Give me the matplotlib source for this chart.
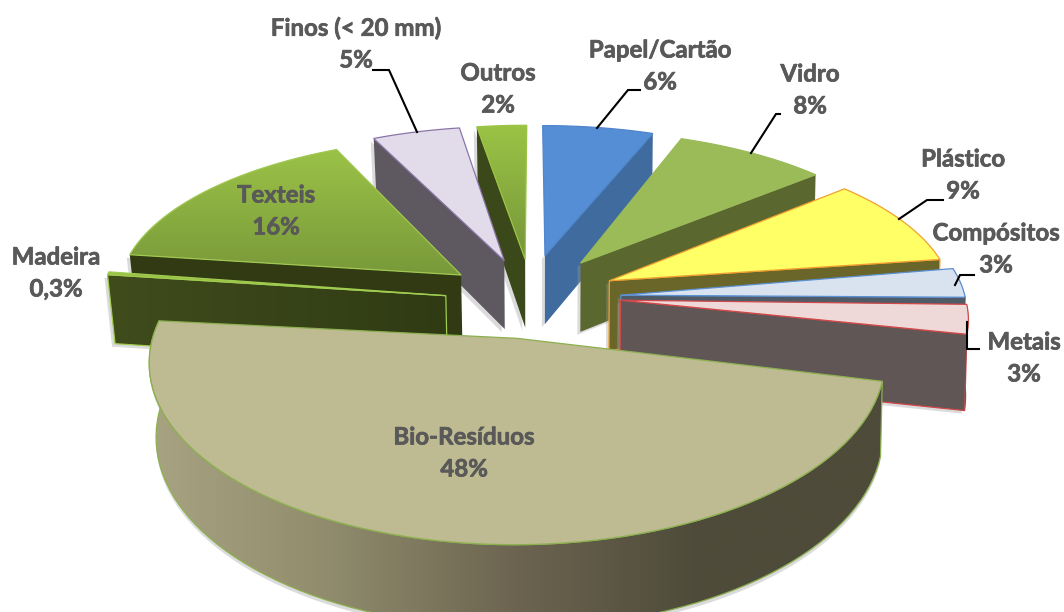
import numpy as np
import matplotlib
matplotlib.use('Agg')
import matplotlib.pyplot as plt
import matplotlib.patheffects as pe
from matplotlib.patches import Polygon
from matplotlib.colors import LinearSegmentedColormap

# data, clockwise from the top
names = ['Papel/Cartão', 'Vidro', 'Plástico', 'Compósitos', 'Metais',
         'Bio-Resíduos', 'Madeira', 'Texteis', 'Finos (< 20 mm)', 'Outros']
shares = [5.8, 8, 9, 3, 3, 48, 0.3, 16, 4.6, 2.6]
share_labels = ['6%', '8%', '9%', '3%', '3%', '48%', '0,3%', '16%', '5%', '2%']

# style of each slice
top_colors = ['#558ED5', '#9BBB59', '#FFFF66', '#D9E3F0', '#EFD9D8',
              '#BEBA91', '#9BC046', ('#9BC247', '#79993A'), '#E2DCEA', ('#9BC445', '#76953A')]
wall_colors = ['#3F6B9F', '#5A672E', '#6A662A', '#4F5B66', '#605656',
               ('#A8A482', '#8F8B6C', '#6C6450', '#4E4B3A', '#4E4B3A'),
               ('#404C1C', '#303B14'), '#313A13', '#5E5860', '#3A481A']
edge_colors = ['#4F86CC', '#9BBB59', '#F0A030', '#5B8FD0', '#D04848',
               '#8CB050', '#A0CC50', '#A0C850', '#8B75A8', '#9BC445']
explode = [0.21, 0.20, 0.21, 0.24, 0.24, 0.36, 0.26, 0.26, 0.21, 0.21]
stretch = [1, 1, 1, 1, 1, 1.07, 1, 1, 1, 1]
depths = [70, 70, 70, 70, 74, 70, 70, 70, 70, 70]
# small pixel corrections: whole slice, then apex only
nudge = [(1, 0), (5, 0), (7, 4), (0, 2), (0, 2), (9, -9), (10, 4), (9, 5), (-1, 0), (2, 0)]
apex_nudge = [(1, -3), (6, -2), (6, 0), (7, 5), (7, 3), (0, 0), (-4, 6), (-5, 3), (-3, 1), (-1, 1)]
draw_order = [9, 8, 0, 1, 2, 3, 4, 7, 6, 5]

# text positions in pixels
label_xy = [(660, 50), (810, 74), (963, 159), (996, 233), (1024, 342),
            (464, 437), (56, 257), (276, 195), (356, 28), (498, 73)]
leaders = [[(640, 90), (628, 90), (597, 128)],
           [(780, 114), (776, 114), (751, 153)],
           [(943, 200), (927, 200), (899, 219)],
           [(974, 275), (960, 275), (955, 285)],
           [(979, 349), (967, 349), (967, 322)],
           [(373, 70), (389, 70), (417, 132)]]

# projection of the pie plane
cx, cy = 530, 290
fx, fy = 350, 155
persp = 0.114


def project(X, Y):
    w = 1 + persp * Y
    return cx + fx * X / w, cy - fy * Y / w


def drop(px, py, Y, h):
    w = 1 + persp * Y
    shrink = np.where(np.asarray(px) > cx, 0.995, 0.982)
    return cx + (px - cx) * shrink, py + h / w


def gradient(ax, patch, colors, horizontal, z):
    cmap = LinearSegmentedColormap.from_list('g', list(colors))
    pts = patch.get_xy()
    x0, x1, y0, y1 = pts[:, 0].min(), pts[:, 0].max(), pts[:, 1].min(), pts[:, 1].max()
    ramp = np.linspace(0, 1, 256)
    ramp = ramp[None, :] if horizontal else ramp[:, None]
    im = ax.imshow(ramp, cmap=cmap, extent=(x0, x1, y1, y0), aspect='auto', zorder=z)
    ax.add_patch(patch)
    im.set_clip_path(patch)


def face(ax, pts, color, edge, z, horizontal=False, lw=0.9):
    if isinstance(color, tuple):
        back = Polygon(pts, closed=True, facecolor='none', edgecolor='none', zorder=z)
        gradient(ax, back, color, horizontal, z)
        ax.add_patch(Polygon(pts, closed=True, facecolor='none', edgecolor=edge, lw=lw, zorder=z))
    else:
        ax.add_patch(Polygon(pts, closed=True, facecolor=color, edgecolor=edge, lw=lw, zorder=z))


fig = plt.figure(figsize=(10.64, 6.12), dpi=100)
ax = fig.add_axes([0, 0, 1, 1])

edges = np.radians(np.concatenate([[0], np.cumsum(shares)]) / np.sum(shares) * 360)
z = 2
for i in draw_order:
    a0, a1 = edges[i], edges[i + 1]
    mid = (a0 + a1) / 2
    ex, ey = explode[i] * np.sin(mid), explode[i] * np.cos(mid)
    arc = np.linspace(a0, a1, 80)
    wx = ex + np.sin(arc)
    wy = ey + stretch[i] * np.cos(arc)
    sx, sy = project(wx, wy)
    ax_, ay_ = project(ex, ey)
    sx = sx + nudge[i][0]
    sy = sy + nudge[i][1]
    ax_ = ax_ + nudge[i][0] + apex_nudge[i][0]
    ay_ = ay_ + nudge[i][1] + apex_nudge[i][1]
    bx, by = drop(sx, sy, wy, depths[i])
    abx, aby = drop(ax_, ay_, ey, depths[i])

    top = np.column_stack([np.r_[ax_, sx], np.r_[ay_, sy]])

    # soft shadow next to the walls
    big = a1 - a0 > np.pi / 2
    outer = np.column_stack([np.r_[sx, bx[::-1]], np.r_[sy, by[::-1]]])
    if big:
        ax.add_patch(Polygon(outer + [0, 4], closed=True, facecolor='#999999', edgecolor='none', alpha=0.35, zorder=z))
    z += 1

    if not big:
        k = -1 if mid < np.pi else 0
        wall = np.array([(sx[k], sy[k]), (ax_, ay_), (abx, aby), (bx[k], by[k])])
        ax.add_patch(Polygon(wall + [-3, 3], closed=True, facecolor='#999999', edgecolor='none', alpha=0.35, zorder=z))
        z += 1
        face(ax, wall, wall_colors[i], edge_colors[i] if i in (2, 3, 4, 6) else 'none', z, horizontal=True)
        z += 1
    if big or wy.min() < 0:
        face(ax, outer, wall_colors[i], edge_colors[i] if big else 'none', z, horizontal=True)
        z += 1
    face(ax, top, top_colors[i], edge_colors[i], z)
    z += 1

bold = [pe.withStroke(linewidth=0.5, foreground='#595959')]
for i, (x, y) in enumerate(label_xy):
    ax.text(x, y, names[i], ha='center', va='center', fontsize=17.3, fontweight='bold',
            color='#595959', family='Lato', zorder=200, path_effects=bold)
    ax.text(x, y + 32, share_labels[i], ha='center', va='center', fontsize=17.3, fontweight='bold',
            color='#595959', family='Lato', zorder=200, path_effects=bold)

for line in leaders:
    xs, ys = zip(*line)
    ax.plot(xs, ys, color='black', lw=1.5, zorder=150, solid_joinstyle='miter')

ax.set_xlim(0, 1064)
ax.set_ylim(612, 0)
ax.axis('off')
fig.savefig('out.png', dpi=100)
